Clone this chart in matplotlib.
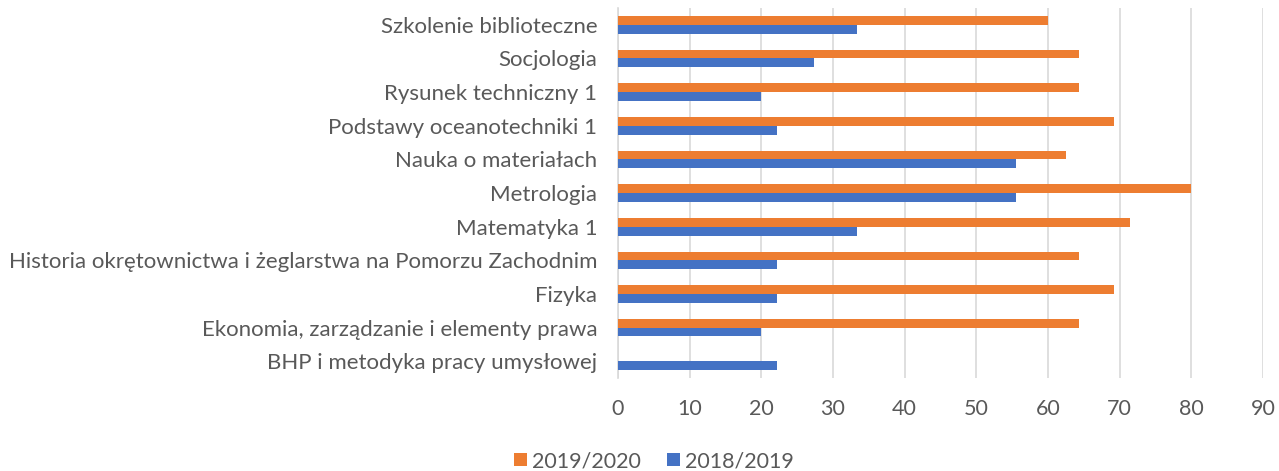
import numpy as np
import matplotlib
matplotlib.use('Agg')
import matplotlib.pyplot as plt

plt.rcParams['font.family'] = ['Lato', 'DejaVu Sans']

#dane (od dołu do góry)
przedmioty = ['BHP i metodyka pracy umysłowej',
              'Ekonomia, zarządzanie i elementy prawa',
              'Fizyka',
              'Historia okrętownictwa i żeglarstwa na Pomorzu Zachodnim',
              'Matematyka 1',
              'Metrologia',
              'Nauka o materiałach',
              'Podstawy oceanotechniki 1',
              'Rysunek techniczny 1',
              'Socjologia',
              'Szkolenie biblioteczne']
r2019_2020 = [0, 64.3, 69.2, 64.3, 71.4, 80.0, 62.5, 69.2, 64.3, 64.3, 60.0]
r2018_2019 = [22.2, 20.0, 22.2, 22.2, 33.3, 55.6, 55.6, 22.2, 20.0, 27.3, 33.3]
ticks_x = np.arange(0, 100, 10)

naranja = '#ED7D31'
azul = '#4472C4'
gris = '#595959'

fig = plt.figure(figsize=(12.79, 4.71), dpi=100)
ax = fig.add_axes([618/1279, 0.197, 645/1279, 0.786])

y = np.arange(len(przedmioty))
h = 0.26
ax.barh(y + h/2, r2019_2020, height=h, color=naranja, label='2019/2020', zorder=3)
ax.barh(y - h/2, r2018_2019, height=h, color=azul, label='2018/2019', zorder=3)

ax.set_xlim(0, 90)
ax.set_ylim(-0.5, len(przedmioty) - 0.5)
ax.set_xticks(ticks_x)
ax.set_yticks(y)
ax.set_yticklabels(przedmioty)
ax.grid(axis='x', color='#d9d9d9', linewidth=1.2, zorder=0)
for s in ['top', 'right', 'bottom']:
    ax.spines[s].set_visible(False)
ax.spines['left'].set_color('#d9d9d9')
ax.spines['left'].set_linewidth(1.2)
ax.tick_params(axis='both', length=0, colors=gris)
ax.tick_params(axis='x', pad=15, labelsize=15.5)
ax.tick_params(axis='y', pad=15, labelsize=16)

fig.legend(loc='center', bbox_to_anchor=(654/1279, 1 - 461/471), ncol=2,
           frameon=False, fontsize=15.5, labelcolor=gris,
           handlelength=0.6, handleheight=0.6, handletextpad=0.25, columnspacing=1.2)

plt.savefig('out.png', dpi=100)
